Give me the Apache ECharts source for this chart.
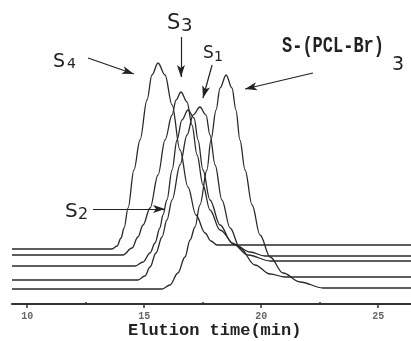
<!DOCTYPE html>
<html>
<head>
<meta charset="utf-8">
<script src="https://cdn.jsdelivr.net/npm/echarts@6/dist/echarts.min.js"></script>
<style>
  html, body { margin: 0; padding: 0; background: #fff; }
  #chart { width: 411px; height: 341px; }
</style>
</head>
<body>
<div id="chart"></div>
<script>
// elution time (min) / detector signal (offset per trace)
let s4 = [[9.35, 55], [13.62, 55], [13.84, 58], [14.01, 66], [14.14, 76], [14.31, 96], [14.56, 134], [14.82, 164], [15.12, 204], [15.33, 229], [15.59, 241], [15.89, 229], [16.19, 199], [16.53, 154], [16.87, 117], [17.21, 89], [17.60, 71], [17.85, 63], [18.11, 59], [26.4, 59]]
let s3 = [[9.35, 49], [14.09, 49], [14.48, 56], [14.73, 67], [14.95, 79], [15.25, 96], [15.59, 129], [15.89, 164], [16.19, 189], [16.36, 204], [16.57, 212], [16.83, 202], [17.04, 179], [17.26, 149], [17.51, 119], [17.81, 94], [18.24, 74], [18.88, 59], [19.52, 52], [20.16, 48], [26.4, 48]]
let s2 = [[9.35, 38], [14.61, 38], [14.95, 42], [15.25, 51], [15.46, 61], [15.67, 76], [15.80, 89], [15.97, 104], [16.19, 134], [16.40, 164], [16.61, 184], [16.87, 194], [17.13, 186], [17.30, 164], [17.51, 134], [17.81, 104], [18.24, 79], [18.75, 61], [19.44, 49], [20.38, 43], [26.4, 43]]
let s1 = [[9.35, 24], [14.73, 24], [15.03, 28], [15.25, 37], [15.50, 51], [15.76, 67], [15.97, 84], [16.19, 104], [16.53, 139], [16.83, 169], [17.09, 189], [17.38, 197], [17.64, 189], [17.81, 169], [18.03, 139], [18.32, 104], [18.67, 76], [19.09, 56], [19.73, 39], [20.38, 30], [21.02, 27], [26.4, 27]]
let sPcl = [[9.35, 15], [15.76, 15], [16.10, 19], [16.44, 31], [16.74, 47], [16.96, 64], [17.17, 77], [17.38, 99], [17.68, 134], [17.85, 164], [18.07, 194], [18.24, 216], [18.50, 229], [18.75, 216], [18.92, 194], [19.09, 164], [19.31, 134], [19.61, 99], [19.95, 69], [20.38, 47], [20.93, 31], [21.66, 22], [22.64, 16], [26.4, 16]]

let xTicks = [10, 15, 20, 25]
let xMinorTicks = [12.5, 17.5, 22.5]

// annotation arrows [from, to]
let arrows = [
    [[12.60, 246], [14.56, 230]],   // S4
    [[16.57, 267], [16.57, 227]],   // S3
    [[17.90, 239], [17.51, 206]],   // S1
    [[22.21, 231], [19.31, 215]],   // S-(PCL-Br)3
    [[12.81, 95], [15.89, 95]]      // S2
]

let myChart = echarts.init(document.getElementById('chart'))

let curveStyle = { color: '#2a2a2a', width: 1.3 }
function curve(name, data) {
    return {
        name: name,
        type: 'line',
        data: data,
        smooth: 0.35,
        smoothMonotone: 'x',
        showSymbol: false,
        lineStyle: curveStyle,
        silent: true
    }
}

function txt(text, x, y, font, extra) {
    return Object.assign({
        type: 'text',
        style: {
            text: text, x: x, y: y, font: font, fill: '#222',
            align: 'left', verticalAlign: 'middle'
        }
    }, extra || {})
}

let option = {
    animation: false,
    grid: { left: 12, right: 0, top: 0, bottom: 37 },
    xAxis: [{
        type: 'value',
        min: 9.35,
        max: 26.4,
        axisLine: { lineStyle: { color: '#333', width: 2 } },
        axisTick: { customValues: xTicks, length: 4, lineStyle: { color: '#333', width: 1.5 } },
        axisLabel: {
            customValues: xTicks, margin: 7,
            fontFamily: 'Liberation Mono', fontWeight: 'bold', fontSize: 10, color: '#666'
        },
        splitLine: { show: false }
    }, {
        type: 'value',
        min: 9.35,
        max: 26.4,
        position: 'bottom',
        axisLine: { show: false },
        axisTick: { customValues: xMinorTicks, inside: true, length: 2, lineStyle: { color: '#333', width: 1.5 } },
        axisLabel: { show: false },
        splitLine: { show: false }
    }],
    yAxis: { type: 'value', min: 0, max: 304, show: false },
    series: [
        curve('S4', s4),
        curve('S3', s3),
        curve('S2', s2),
        curve('S1', s1),
        curve('S-(PCL-Br)3', sPcl),
        {
            name: 'notes',
            type: 'line',
            data: [],
            markLine: {
                silent: true,
                symbol: ['none', 'arrow'],
                symbolSize: [6, 12],
                label: { show: false },
                lineStyle: { color: '#222', width: 1.2, type: 'solid' },
                data: arrows.map(a => [{ coord: a[0] }, { coord: a[1] }])
            }
        }
    ],
    graphic: [
        txt('S', 53, 62, '19px DejaVu Sans'),
        txt('4', 67, 64, '14px DejaVu Sans'),
        txt('S', 167, 24, '21px DejaVu Sans'),
        txt('3', 181, 26, '18px DejaVu Sans'),
        txt('S', 203, 54, '17px DejaVu Sans'),
        txt('1', 214, 57, '14px DejaVu Sans'),
        txt('S', 65, 212, '20px DejaVu Sans'),
        txt('2', 78, 215, '16px DejaVu Sans'),
        txt('S-(PCL-Br)', 0, 0, 'bold 17px Liberation Mono', { x: 282, y: 47, scaleY: 1.25 }),
        txt('3', 392, 65, '19px DejaVu Sans'),
        txt('Elution time(min)', 128, 331, 'bold 17px Liberation Mono')
    ]
}

myChart.setOption(option)
</script>
</body>
</html>
